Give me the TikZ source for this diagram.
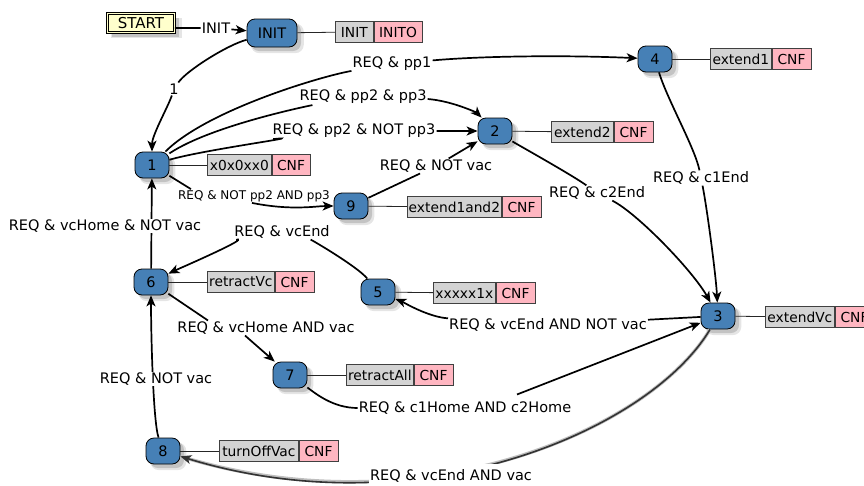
\documentclass[tikz,border=0pt]{standalone}
\usepackage{fontspec}
\setmainfont{DejaVu Sans}
\usetikzlibrary{shadows,arrows.meta,calc}
\definecolor{stateblue}{RGB}{70,128,182}
\definecolor{cfggray}{RGB}{211,211,211}
\definecolor{cfgpink}{RGB}{255,182,193}
\definecolor{startyel}{RGB}{255,255,204}
\begin{document}
\begin{tikzpicture}[x=1pt,y=-1pt,
  shad/.style={drop shadow={shadow xshift=5pt,shadow yshift=-5pt,shadow scale=1.06,fill=black,opacity=0.10},
               drop shadow={shadow xshift=4pt,shadow yshift=-4pt,fill=black,opacity=0.15}},
  state/.style={draw=black,line width=0.8pt,fill=stateblue,rounded corners=8pt,
    minimum width=34pt,minimum height=26pt,inner sep=0pt,
    font=\fontsize{14.5}{17}\selectfont,shad},
  startbox/.style={draw=black,line width=0.6pt,double=startyel,double distance=1.8pt,
    fill=startyel,minimum width=67pt,minimum height=19pt,inner sep=0pt,
    font=\fontsize{15}{17}\selectfont,shad},
  cfg/.style={draw=black!75,line width=0.7pt,minimum height=21pt,inner sep=0pt,
    anchor=west,font=\fontsize{13.8}{16}\selectfont},
  cfgg/.style={cfg,fill=cfggray},
  cfgp/.style={cfg,fill=cfgpink},
  tie/.style={line width=0.8pt,black!85},
  elabel/.style={fill=white,inner sep=1pt,font=\fontsize{14.5}{17}\selectfont},
  slabel/.style={fill=white,inner sep=1pt,font=\fontsize{12}{14}\selectfont},
  edge/.style={line width=1.7pt,-{Stealth[length=11pt,width=9pt,inset=3pt]}},
  edgegray/.style={line width=1.6pt,black!80,-{Stealth[length=11pt,width=9pt,inset=3pt]}}
]
\useasboundingbox (0,0) rectangle (864,485);

% states
\node[startbox] (start) at (141,23) {START};
\node[state,minimum width=50pt,minimum height=28pt] (init) at (272,33) {INIT};
\node[state] (n1) at (152,165) {1};
\node[state] (n2) at (495,131) {2};
\node[state] (n3) at (718,316) {3};
\node[state] (n4) at (655,59) {4};
\node[state] (n5) at (378,292) {5};
\node[state] (n6) at (151,282) {6};
\node[state] (n7) at (290,375) {7};
\node[state] (n8) at (163,451) {8};
\node[state] (n9) at (351,206) {9};

% configuration boxes
\node[cfgg,minimum width=38pt] (bIa) at (335,32) {INIT};
\node[cfgp,minimum width=48pt] (bIb) at (bIa.east) {INITO};
\node[cfgg,minimum width=64pt] (b1a) at (207,165) {x0x0xx0};
\node[cfgp,minimum width=38pt] (b1b) at (b1a.east) {CNF};
\node[cfgg,minimum width=62pt] (b2a) at (551,132) {extend2};
\node[cfgp,minimum width=39pt] (b2b) at (b2a.east) {CNF};
\node[cfgg,minimum width=69pt] (b3a) at (765,317) {extendVc};
\node[cfgp,minimum width=39pt] (b3b) at (b3a.east) {CNF};
\node[cfgg,minimum width=61pt] (b4a) at (710,59) {extend1};
\node[cfgp,minimum width=39pt] (b4b) at (b4a.east) {CNF};
\node[cfgg,minimum width=62pt] (b5a) at (433,293) {xxxxx1x};
\node[cfgp,minimum width=39pt] (b5b) at (b5a.east) {CNF};
\node[cfgg,minimum width=67pt] (b6a) at (207,282) {retractVc};
\node[cfgp,minimum width=39pt] (b6b) at (b6a.east) {CNF};
\node[cfgg,minimum width=67pt] (b7a) at (346,375) {retractAll};
\node[cfgp,minimum width=39pt] (b7b) at (b7a.east) {CNF};
\node[cfgg,minimum width=79pt] (b8a) at (219,451) {turnOffVac};
\node[cfgp,minimum width=39pt] (b8b) at (b8a.east) {CNF};
\node[cfgg,minimum width=94pt] (b9a) at (407,207) {extend1and2};
\node[cfgp,minimum width=39pt] (b9b) at (b9a.east) {CNF};

\draw[tie] (init) -- (bIa);
\draw[tie] (n1) -- (b1a);
\draw[tie] (n2) -- (b2a);
\draw[tie] (n3) -- (b3a);
\draw[tie] (n4) -- (b4a);
\draw[tie] (n5) -- (b5a);
\draw[tie] (n6) -- (b6a);
\draw[tie] (n7) -- (b7a);
\draw[tie] (n8) -- (b8a);
\draw[tie] (n9) -- (b9a);

% edge labels that edges pass through
\node[elabel] (linit) at (216,28) {INIT};
\node[elabel] (l1) at (174,89) {1};
\node[elabel] (lp1) at (392,64) {REQ \& pp1};
\node[elabel] (lpp23) at (363,97) {REQ \& pp2 \& pp3};
\node[elabel] (lnp3) at (354,131) {REQ \& pp2 \& NOT pp3};
\node[slabel] (lnp2) at (254,196) {REQ \& NOT pp2 AND pp3};
\node[elabel] (lnv) at (436,166) {REQ \& NOT vac};
\node[elabel] (lc2) at (597,193) {REQ \& c2End};
\node[elabel] (lc1) at (701,178) {REQ \& c1End};
\node[elabel] (lne) at (548,325) {REQ \& vcEnd AND NOT vac};
\node[elabel] (lch) at (465,408) {REQ \& c1Home AND c2Home};
\node[elabel] (lve) at (282,232) {REQ \& vcEnd};
\node[elabel] (lvha) at (266,328) {REQ \& vcHome AND vac};

% edges
\draw[edge] ([yshift=-5pt]start.east) -- (linit) -- (init);
\draw[edge] (init) .. controls +(-45,12) and +(12,-18) .. (l1)
  .. controls +(-6,18) and +(0,-30) .. (n1);
\draw[edge] (n1) .. controls +(55,-55) and +(-70,12) .. (lp1)
  .. controls +(90,-8) and +(-90,-4) .. (n4);
\draw[edge] (n1) .. controls +(60,-40) and +(-50,8) .. (lpp23)
  ([yshift=-2pt]lpp23.east) .. controls +(25,2) and +(-18,-18) .. (n2);
\draw[edge] (n1) .. controls +(50,-15) and +(-40,4) .. (lnp3) -- (n2);
\draw[edge] (n1) -- ([xshift=14pt]lnp2.north west)
  ([xshift=-2pt]lnp2.south) .. controls +(40,8) and +(-35,0) .. (n9);
\draw[edge] (n9) -- (lnv) -- (n2);
\draw[edge] (n2) .. controls +(25,15) and +(-25,-18) .. (lc2)
  .. controls +(40,20) and +(-25,-45) .. (n3);
\draw[edge] (n4) .. controls +(12,40) and +(-6,-30) .. (lc1)
  .. controls +(6,30) and +(-2,-40) .. (n3);
\draw[edge] (n3) -- (lne) .. controls +(-120,-8) and +(25,10) .. (n5);
\draw[edge] (n7) .. controls +(25,18) and +(-25,0) .. (lch.west)
  ([xshift=52pt,yshift=6pt]lch.north) -- (n3);
\draw[edge] (n5) .. controls +(-20,-25) and +(30,8) .. (lve)
  .. controls +(-30,5) and +(25,-12) .. (n6);
\draw[edge] (n6) -- ([xshift=-58pt]lvha.north)
  ([xshift=-21pt]lvha.south) -- (n7);
\draw[edge] (n6) -- (n1);
\draw[edge] (n8) .. controls +(-10,-30) and +(0,50) .. (n6);
\draw[black!25,line width=3.4pt] (n3) .. controls +(-68,114) and +(257,79) .. (n8);
\draw[edgegray] (n3) .. controls +(-68,114) and +(257,79) .. (n8);

% labels laid over edges
\node[elabel] (lvh) at (105,226) {REQ \& vcHome \& NOT vac};
\node[elabel] (lnv2) at (156,379) {REQ \& NOT vac};
\node[elabel,inner ysep=6pt] (l38) at (451,476) {REQ \& vcEnd AND vac};
\end{tikzpicture}
\end{document}
